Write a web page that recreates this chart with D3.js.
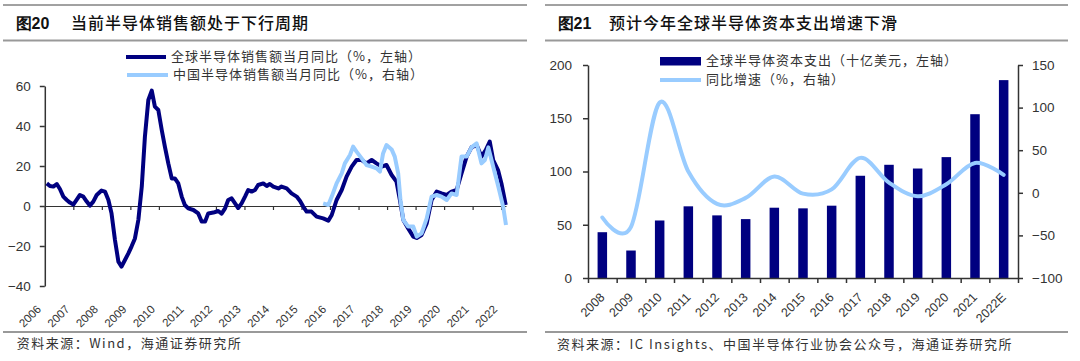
<!DOCTYPE html>
<html>
<head>
<meta charset="utf-8">
<script src="https://cdn.jsdelivr.net/npm/d3@7"></script>
<style>
body { margin: 0; background: #fff; }
svg text { font-family: "Liberation Sans", Arial, sans-serif; fill: #333; }
svg .cjk { font-family: "Noto Sans CJK SC", sans-serif; }
</style>
</head>
<body>
<svg id="chart" width="1080" height="361"></svg>
<script>
// ---- fig 20 data (decimal year, yoy %)
const globalT = [2006.07,2006.18,2006.30,2006.42,2006.53,2006.65,2006.77,2006.88,2007.00,2007.12,2007.23,2007.35,2007.47,2007.58,2007.70,2007.82,2007.99,2008.11,2008.23,2008.34,2008.46,2008.58,2008.69,2008.81,2008.93,2009.04,2009.16,2009.28,2009.40,2009.51,2009.63,2009.75,2009.86,2009.98,2010.10,2010.21,2010.33,2010.45,2010.56,2010.68,2010.80,2010.91,2011.03,2011.21,2011.38,2011.50,2011.62,2011.73,2011.91,2012.08,2012.20,2012.32,2012.43,2012.55,2012.67,2012.78,2012.90,2013.02,2013.13,2013.25,2013.37,2013.48,2013.66,2013.78,2013.89,2014.01,2014.19,2014.30,2014.48,2014.65,2014.83,2014.95,2015.06,2015.18,2015.35,2015.53,2015.76,2015.94,2016.06,2016.23,2016.41,2016.58,2016.76,2016.93,2017.11,2017.28,2017.46,2017.63,2017.81,2017.98,2018.16,2018.33,2018.45,2018.57,2018.74,2018.92,2019.04,2019.21,2019.39,2019.56,2019.74,2019.91,2020.09,2020.26,2020.44,2020.61,2020.79,2020.96,2021.14,2021.31,2021.46,2021.60,2021.72,2021.89,2022.01,2022.16]
const globalV = [11.3,10,9.7,11,8.5,4.7,3,1.7,0.7,3.2,5.5,4.7,2.2,0.2,2.2,5.5,7.7,7.2,3,-3.7,-17,-27.8,-30.3,-27,-23.7,-20.3,-16.2,-7,9.7,34.7,53,57.7,49.7,48,38,29.7,21.3,13.8,13.8,11.3,4.7,0.5,-1.2,-2,-3.7,-7.8,-7.8,-3.7,-3.3,-2.5,-3.8,-1.2,3,3.8,1.3,-1,1.3,4.7,8,7.2,8,10.5,11.3,10,11,9.7,8.8,9.7,8.8,6.3,4.7,2.5,-0.3,-2.8,-2.8,-5.3,-6.2,-7.3,-4.5,3,8,14.7,19.7,23,23,21.3,23,21.3,19.7,20.5,15.5,12.2,3,-7,-11.2,-15.3,-16,-14.5,-8.7,3,7.2,6.3,5.5,7.2,8,16.3,24.7,29.3,30.5,24.7,28,32.2,23,18,11.3,0.5]
const chinaT = [2015.76,2015.94,2016.06,2016.23,2016.41,2016.52,2016.70,2016.81,2016.93,2017.11,2017.28,2017.46,2017.63,2017.75,2017.86,2017.98,2018.16,2018.27,2018.39,2018.47,2018.57,2018.74,2018.92,2019.04,2019.21,2019.39,2019.56,2019.74,2019.91,2020.09,2020.26,2020.44,2020.61,2020.79,2020.96,2021.14,2021.31,2021.43,2021.55,2021.72,2021.90,2022.07,2022.17]
const chinaV = [1.3,0.5,4.7,11.3,16.3,21.3,25.5,29.7,27.2,23.8,20.5,19.7,18.8,17.2,26.3,30.5,28.3,24.7,16.3,3,-7,-10.3,-10.3,-15.3,-13.7,-6.2,4.7,5.5,4.7,3,6.3,5.5,24.7,24.7,29.3,31.3,21.3,23,29.3,19.7,9.7,-0.3,-9.5]
const yearTicks = [2006,2007,2008,2009,2010,2011,2012,2013,2014,2015,2016,2017,2018,2019,2020,2021,2022]
const leftYTicks = [-40,-20,0,20,40,60]

// ---- fig 21 data
const capexYears = ['2008','2009','2010','2011','2012','2013','2014','2015','2016','2017','2018','2019','2020','2021','2022E']
const capex = [43, 25.8, 54, 67.3, 58.8, 55.3, 66, 65.4, 67.9, 96, 106.3, 102.8, 113.5, 153.8, 185.8]
const growth = [-29, -40, 106, 25, -13, -6, 19, -1, 4, 41, 12, -4, 10, 35, 21]
const capexTicks = [0,50,100,150,200]
const growthTicks = [-100,-50,0,50,100,150]

const navy = '#000080', lightBlue = '#99ccff', axisCol = '#333'

const svg = d3.select('#chart')

// panel frames (rules, titles, sources)
let frame = (x0, x1, num, title, titleX, source, sourceX, sourceY) => {
  svg.append('line').attr('x1', x0).attr('x2', x1).attr('y1', 5).attr('y2', 5)
    .attr('stroke', '#444').attr('stroke-width', 1)
  svg.append('line').attr('x1', x0).attr('x2', x1).attr('y1', 40.5).attr('y2', 40.5)
    .attr('stroke', '#999').attr('stroke-width', 2)
  svg.append('line').attr('x1', x0).attr('x2', x1).attr('y1', 332).attr('y2', 332)
    .attr('stroke', '#999').attr('stroke-width', 2)
  svg.append('text').attr('x', x0 + 12.5).attr('y', 29)
    .attr('font-size', 16).attr('font-weight', 'bold').style('fill', '#111')
    .text(num)
  svg.append('text').attr('class', 'cjk').attr('x', titleX).attr('y', 29)
    .attr('font-size', 16).attr('font-weight', 500).attr('letter-spacing', 1).style('fill', '#111')
    .text(title)
  svg.append('text').attr('class', 'cjk').attr('x', sourceX).attr('y', sourceY)
    .attr('font-size', 13).attr('letter-spacing', 1.5).attr('dominant-baseline', 'middle')
    .text(source)
}
frame(3, 527, '图20', '当前半导体销售额处于下行周期', 71, '资料来源：Wind，海通证券研究所', 16.7, 344)
frame(545, 1068, '图21', '预计今年全球半导体资本支出增速下滑', 609, '资料来源：IC Insights、中国半导体行业协会公众号，海通证券研究所', 557, 345)

svg.select('text').attr('x', 15.5)

// ================= fig 20 =================
const xL = d3.scaleLinear().domain([2006, 2022.17]).range([44.8, 506])
const yL = d3.scaleLinear().domain([-40, 60]).range([286, 86])

let gLy = svg.append('g').attr('transform', 'translate(44.8,0)')
  .call(d3.axisLeft(yL).tickValues(leftYTicks).tickSize(5).tickSizeOuter(0).tickPadding(9))
gLy.select('.domain').attr('stroke', axisCol).attr('stroke-width', 1.5)
gLy.selectAll('.tick line').attr('stroke', axisCol).attr('stroke-width', 1.5)
gLy.selectAll('.tick text').attr('font-size', 13.5).style('fill', '#333')

let gLx = svg.append('g').attr('transform', `translate(0,${yL(0)})`)
  .call(d3.axisBottom(xL).tickValues(yearTicks).tickSize(4).tickSizeOuter(0).tickFormat(''))
gLx.select('.domain').attr('stroke', axisCol).attr('stroke-width', 1.2)
gLx.selectAll('.tick line').attr('stroke', axisCol).attr('stroke-width', 1.2)

svg.append('g').selectAll('text').data(yearTicks).enter().append('text')
  .attr('transform', d => `translate(${xL(d) - 3},310) rotate(-45)`)
  .attr('text-anchor', 'end').attr('font-size', 11.5)
  .text(d => d)

let lineL = d3.line().x(d => xL(d[0])).y(d => yL(d[1]))
svg.append('path').datum(d3.zip(globalT, globalV))
  .attr('d', lineL).attr('fill', 'none').attr('stroke', navy)
  .attr('stroke-width', 4).attr('stroke-linejoin', 'round')
svg.append('path').datum(d3.zip(chinaT, chinaV))
  .attr('d', lineL).attr('fill', 'none').attr('stroke', lightBlue)
  .attr('stroke-width', 4).attr('stroke-linejoin', 'round')

// legend
svg.append('line').attr('x1', 126).attr('x2', 166).attr('y1', 57).attr('y2', 57)
  .attr('stroke', navy).attr('stroke-width', 4)
svg.append('text').attr('class', 'cjk').attr('x', 171).attr('y', 57)
  .attr('dominant-baseline', 'middle').attr('font-size', 13).attr('letter-spacing', 1)
  .text('全球半导体销售额当月同比（%，左轴）')
svg.append('line').attr('x1', 127).attr('x2', 168).attr('y1', 75).attr('y2', 75)
  .attr('stroke', lightBlue).attr('stroke-width', 4)
svg.append('text').attr('class', 'cjk').attr('x', 173).attr('y', 75)
  .attr('dominant-baseline', 'middle').attr('font-size', 13).attr('letter-spacing', 1)
  .text('中国半导体销售额当月同比（%，右轴）')

// ================= fig 21 =================
const xR = d3.scaleBand().domain(capexYears).range([588, 1018])
const xEdge = d3.scaleLinear().domain([0, capexYears.length]).range([588, 1018])
const yR1 = d3.scaleLinear().domain([0, 200]).range([278, 65])
const yR2 = d3.scaleLinear().domain([-100, 150]).range([278, 65])
const barW = 9.5

svg.append('g').selectAll('rect').data(capex).enter().append('rect')
  .attr('x', (d, i) => xR(capexYears[i]) + xR.bandwidth() / 2 - barW / 2)
  .attr('y', d => yR1(d))
  .attr('width', barW)
  .attr('height', d => yR1(0) - yR1(d))
  .attr('fill', navy)

let gR1 = svg.append('g').attr('transform', 'translate(588,0)')
  .call(d3.axisLeft(yR1).tickValues(capexTicks).tickSize(5).tickSizeOuter(0).tickPadding(11))
let gR2 = svg.append('g').attr('transform', 'translate(1018,0)')
  .call(d3.axisRight(yR2).tickValues(growthTicks).tickSize(5).tickSizeOuter(0).tickPadding(9))
let gRx = svg.append('g').attr('transform', 'translate(0,278)')
  .call(d3.axisBottom(xEdge).tickValues(d3.range(0, capexYears.length + 1)).tickSize(5).tickSizeOuter(0).tickFormat(''))
;[gR1, gR2, gRx].forEach(g => {
  g.select('.domain').attr('stroke', axisCol).attr('stroke-width', 1.5)
  g.selectAll('.tick line').attr('stroke', axisCol).attr('stroke-width', 1.5)
  g.selectAll('.tick text').attr('font-size', 13.5).style('fill', '#333')
})

svg.append('g').selectAll('text').data(capexYears).enter().append('text')
  .attr('transform', d => `translate(${xR(d) + xR.bandwidth() / 2 + 3},298) rotate(-45)`)
  .attr('text-anchor', 'end').attr('font-size', 12.5)
  .text(d => d)

let lineR = d3.line()
  .x((d, i) => xR(capexYears[i]) + xR.bandwidth() / 2)
  .y(d => yR2(d))
  .curve(d3.curveCardinal.tension(0))
svg.append('path').datum(growth)
  .attr('d', lineR).attr('fill', 'none').attr('stroke', lightBlue)
  .attr('stroke-width', 4).attr('stroke-linecap', 'round')

// legend
svg.append('rect').attr('x', 660).attr('y', 57).attr('width', 41).attr('height', 8.5).attr('fill', navy)
svg.append('text').attr('class', 'cjk').attr('x', 706).attr('y', 61)
  .attr('dominant-baseline', 'middle').attr('font-size', 13).attr('letter-spacing', 1)
  .text('全球半导体资本支出（十亿美元，左轴）')
svg.append('line').attr('x1', 660).attr('x2', 701).attr('y1', 80).attr('y2', 80)
  .attr('stroke', lightBlue).attr('stroke-width', 4)
svg.append('text').attr('class', 'cjk').attr('x', 706).attr('y', 80)
  .attr('dominant-baseline', 'middle').attr('font-size', 13).attr('letter-spacing', 1)
  .text('同比增速（%，右轴）')
</script>
</body>
</html>
